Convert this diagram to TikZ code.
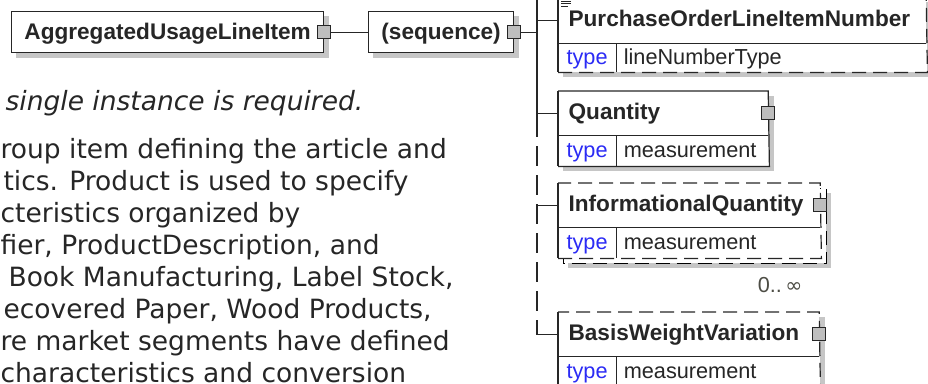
\documentclass[tikz,border=0pt]{standalone}
\usepackage{fontspec}
\setmainfont{Liberation Sans}
\newfontfamily\parafont{DejaVu Sans}
\usepackage{xcolor}
\usepackage{tikz}
\usetikzlibrary{positioning,backgrounds}

\definecolor{edgegray}{HTML}{262626}
\definecolor{shadowgray}{HTML}{C6C6C6}
\definecolor{plugfill}{HTML}{BEBEBE}
\definecolor{typeblue}{HTML}{2B2BF5}
\definecolor{countgray}{HTML}{4D4D45}

\newcommand{\headfont}{\fontsize{22.6}{26}\selectfont\bfseries}
\newcommand{\cellfont}{\fontsize{21.7}{25}\selectfont}
\newcommand{\notefont}{\parafont\fontsize{26.5}{32}\selectfont}

% outer edge of an element box: left side solid, the rest in style #2
\newcommand{\elemoutline}[2]{%
  \draw (#1.north west) -- (#1-t.south west);
  \draw[#2] (#1-t.south west) -- (#1-v.south east) -- (#1.north east) -- (#1.north west);
  \draw (#1.south west) -- (#1.south east) (#1-t.north east) -- (#1-t.south east);
}
% grey shadow behind box #1 .. #2, moved by #3
\newcommand{\elemshadow}[3]{%
  \fill[shadowgray] ([shift={(#3,#3)}]#1.north west) rectangle ([shift={(#3,#3)}]#2.south east);
}

\begin{document}
\begin{tikzpicture}[x=1pt,y=-1pt,line width=1.2pt,color=edgegray]
  \tikzstyle{groupbox}=[rectangle,draw,fill=white,anchor=north west,inner sep=0pt,minimum height=41pt,
    text height=16pt,text depth=2pt,font=\headfont]
  \tikzstyle{elhead}=[rectangle,fill=white,anchor=north west,inner xsep=10pt,inner ysep=0pt,
    minimum height=43pt,text height=16pt,text depth=3pt,align=left,font=\headfont]
  \tikzstyle{typekey}=[rectangle,fill=white,anchor=north west,inner sep=0pt,minimum width=57pt,
    minimum height=30pt,text height=15pt,text depth=1pt,text=typeblue,font=\cellfont]
  \tikzstyle{typeval}=[rectangle,fill=white,inner xsep=7pt,inner ysep=0pt,minimum height=30pt,
    text height=15pt,text depth=1pt,align=left,font=\cellfont]
  \tikzstyle{plug}=[rectangle,draw,fill=plugfill,line width=1pt,minimum size=13pt,inner sep=0pt]
  \tikzstyle{optedge}=[dash pattern=on 14pt off 7pt]
  \tikzstyle{busdash}=[dash pattern=on 20pt off 9pt]
  \tikzstyle{note}=[anchor=base west,inner sep=0pt,font=\notefont]

  \useasboundingbox (0,0) rectangle (928,383);

  % root and compositor
  \node[groupbox,minimum width=312pt] (agg) at (11,11) {AggregatedUsageLineItem};
  \node[groupbox,minimum width=145pt] (seq) at (368,11) {(sequence)};

  % child elements
  \node[elhead,text width=347pt,minimum height=45pt] (po) at (558,-3) {PurchaseOrderLineItemNumber};
  \node[typekey,minimum height=28pt] (po-t) at (po.south west) {type};
  \node[typeval,text width=296pt,minimum height=28pt,right=0pt of po-t] (po-v) {lineNumberType};

  \node[elhead,text width=189pt] (qty) at (558,91) {Quantity};
  \node[typekey] (qty-t) at (qty.south west) {type};
  \node[typeval,text width=138pt,right=0pt of qty-t] (qty-v) {measurement};

  \node[elhead,text width=241pt] (iq) at (558,183) {InformationalQuantity};
  \node[typekey] (iq-t) at (iq.south west) {type};
  \node[typeval,text width=190pt,right=0pt of iq-t] (iq-v) {measurement};
  \node[anchor=base east,inner sep=0pt,text=countgray,font=\cellfont] (iq-m) at (803,292)
    {0..{\parafont\fontsize{20.5}{24}\selectfont\,∞}};

  \node[elhead,text width=240pt] (bwv) at (558,312) {BasisWeightVariation};
  \node[typekey] (bwv-t) at (bwv.south west) {type};
  \node[typeval,text width=189pt,right=0pt of bwv-t] (bwv-v) {measurement};

  \elemoutline{po}{optedge}
  \elemoutline{qty}{solid}
  \elemoutline{iq}{optedge}
  \elemoutline{bwv}{optedge}

  % note icon of the first element
  \draw[line width=0.8pt] ([shift={(3,4)}]po.north west) -- ++(10,0)
    ([shift={(3,6.5)}]po.north west) -- ++(10,0) ([shift={(3,9)}]po.north west) -- ++(7,0);

  % connectors
  \coordinate (bus-top) at (537,-3);
  \coordinate (bus-mid) at (537,117);
  \coordinate (bus-bend) at (537,322);
  \draw (agg.east) -- (seq.west);
  \draw (seq.east) -- (seq.east -| bus-top);
  \draw (bus-top) -- (bus-mid);
  \draw[busdash] (bus-mid) -- (bus-bend);
  \draw (bus-bend) |- (bwv.west);
  \draw (po.west -| bus-top) -- (po.west);
  \draw (qty.west -| bus-top) -- (qty.west);
  \draw (iq.west -| bus-top) -- (iq.west);

  \node[plug] (agg-p) at (agg.east) {};
  \node[plug] (seq-p) at (seq.east) {};
  \node[plug] (qty-p) at (qty.east) {};
  \node[plug] (iq-p) at (iq.east) {};
  \node[plug] (bwv-p) at (bwv.east) {};

  % annotation text on the left
  \node[note,font=\notefont\itshape] (doc0) at (5,110) {single instance is required.};
  \node[note] (doc1) at (0,158) {roup item defining the article and};
  \node[note] (doc2) at (3,190) {tics. Product is used to specify};
  \node[note] (doc3) at (0,222) {cteristics organized by};
  \node[note] (doc4) at (0,254) {fier, ProductDescription, and};
  \node[note] (doc5) at (8,286) {Book Manufacturing, Label Stock,};
  \node[note] (doc6) at (3,318) {ecovered Paper, Wood Products,};
  \node[note] (doc7) at (0,350) {re market segments have defined};
  \node[note] (doc8) at (0,382) {characteristics and conversion};

  \begin{pgfonlayer}{background}
    \elemshadow{agg}{agg}{5}
    \elemshadow{seq}{seq}{5}
    \elemshadow{po}{po-v}{5}
    \elemshadow{qty}{qty-v}{5}
    \elemshadow{iq}{iq-v}{10}
    \elemshadow{bwv}{bwv-v}{5}
    % second box behind InformationalQuantity
    \draw[optedge,fill=white] ([shift={(5,5)}]iq.north west) rectangle ([shift={(5,5)}]iq-v.south east);
  \end{pgfonlayer}
\end{tikzpicture}
\end{document}
